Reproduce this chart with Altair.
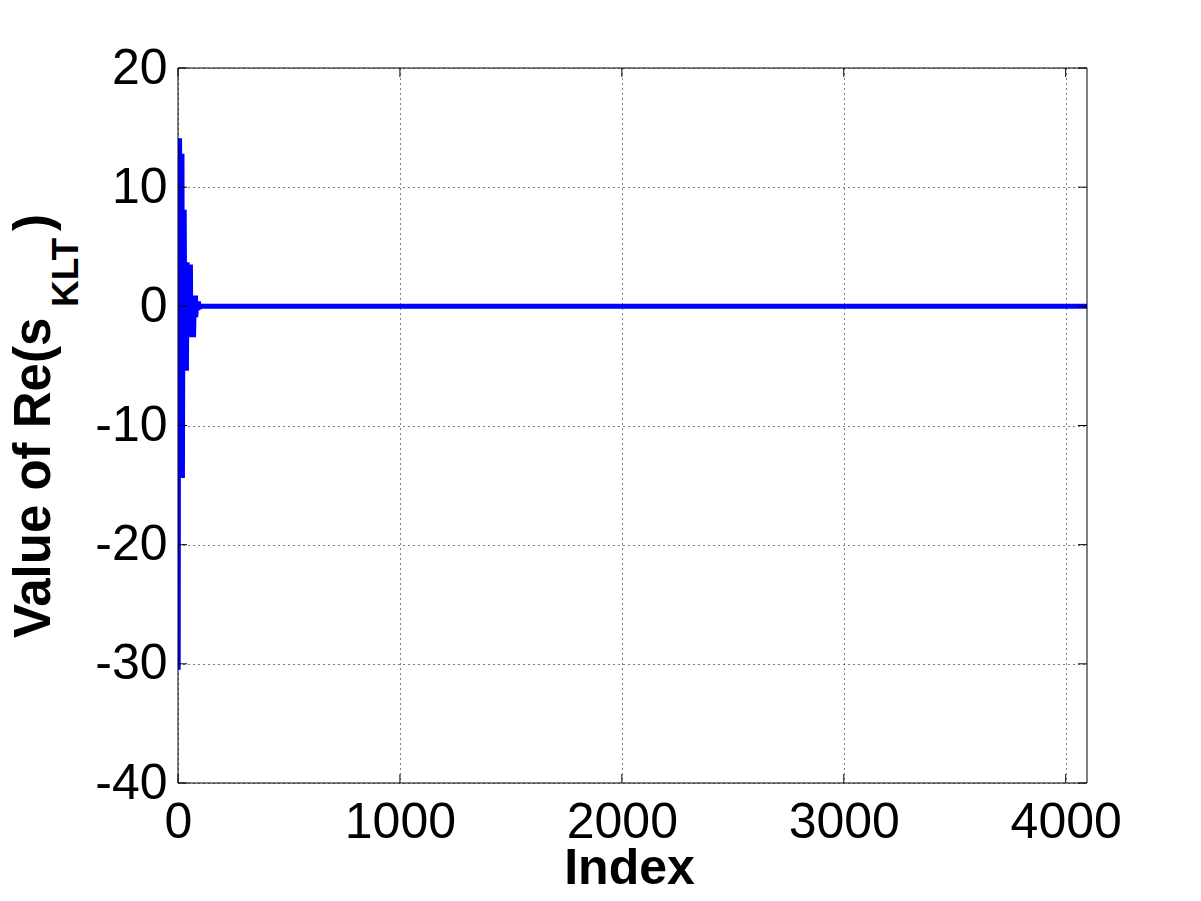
import altair as alt
import pandas as pd

# ---- data ----
index_vals = [1, 3, 5, 7, 10, 13, 16, 18, 20, 23, 26, 28, 31, 34, 38, 41, 43, 47,
              50, 53, 54, 56, 58, 61, 64, 67, 70, 74, 77, 79, 80, 85, 88, 92, 96,
              100, 4096]
signal_vals = [-30.5, 14.1, -14.4, 14.1, -14.4, 12.8, -14.4, 12.8, -14.4, 8.1,
               -5.4, 8.1, -5.4, 3.7, -5.4, 3.7, -2.6, 3.5, -2.6, 3.5, -2.6, 3.5,
               -2.6, 0.9, -2.6, 0.9, -2.6, 0.9, -0.9, 0.9, -0.9, 0.4, -0.3, 0.4,
               -0.2, 0.0, 0.0]
x_ticks = [0, 1000, 2000, 3000, 4000]
y_ticks = [-40, -30, -20, -10, 0, 10, 20]
x_domain = [0, 4096]
y_domain = [-40, 20]
x_title = "Index"
y_title_parts = ["Value of Re(s", "KLT", ")"]

W, H = 909, 715
FONT = "Liberation Sans"
TL = 9  # inner tick length

df = pd.DataFrame({"index": index_vals, "value": signal_vals})
xt = pd.DataFrame({"index": x_ticks})
yt = pd.DataFrame({"value": y_ticks})
one = pd.DataFrame({"a": [0]})

xscale = alt.Scale(domain=x_domain, nice=False, zero=False)
yscale = alt.Scale(domain=y_domain, nice=False, zero=False)

common_axis = dict(
    title=None, grid=True, ticks=False, domain=False,
    labelFontSize=50, labelFont=FONT, labelColor="black",
    labelFlush=False, labelOverlap=False,
    gridDash=[1, 4], gridColor="black", gridOpacity=1, gridWidth=1,
    labelExpr="datum.value + ''",
)
x_axis = alt.Axis(values=x_ticks, labelPadding=14, **common_axis)
y_axis = alt.Axis(values=y_ticks, labelPadding=11, **common_axis)
X = alt.X("index:Q", scale=xscale, axis=x_axis)
Y = alt.Y("value:Q", scale=yscale, axis=y_axis)

line = alt.Chart(df).mark_line(
    color="#0000ff", strokeWidth=5, clip=True, strokeJoin="bevel", strokeCap="butt"
).encode(x=X, y=Y)

rule_kw = dict(color="black", strokeWidth=1)
bottom_ticks = alt.Chart(xt).mark_rule(**rule_kw).encode(
    x=X, y=alt.value(H), y2=alt.value(H - TL))
top_ticks = alt.Chart(xt).mark_rule(**rule_kw).encode(
    x=X, y=alt.value(0), y2=alt.value(TL))
left_ticks = alt.Chart(yt).mark_rule(**rule_kw).encode(
    y=Y, x=alt.value(0), x2=alt.value(TL))
right_ticks = alt.Chart(yt).mark_rule(**rule_kw).encode(
    y=Y, x=alt.value(W), x2=alt.value(W - TL))

border_left = alt.Chart(one).mark_rule(**rule_kw).encode(
    x=alt.value(0), y=alt.value(0), y2=alt.value(H))
border_right = alt.Chart(one).mark_rule(**rule_kw).encode(
    x=alt.value(W), y=alt.value(0), y2=alt.value(H))
border_top = alt.Chart(one).mark_rule(**rule_kw).encode(
    y=alt.value(0), x=alt.value(0), x2=alt.value(W))
border_bottom = alt.Chart(one).mark_rule(**rule_kw).encode(
    y=alt.value(H), x=alt.value(0), x2=alt.value(W))

xlab = alt.Chart(pd.DataFrame({"t": [x_title]})).mark_text(
    font=FONT, fontSize=50, fontWeight="bold", align="center", baseline="alphabetic", color="black"
).encode(text="t:N", x=alt.value(W / 2 - 3), y=alt.value(816))

yl1 = alt.Chart(pd.DataFrame({"t": [y_title_parts[0]]})).mark_text(
    font=FONT, fontSize=51, fontWeight="bold", align="left", baseline="alphabetic",
    angle=270, color="black"
).encode(text="t:N", x=alt.value(-128), y=alt.value(570))
yl2 = alt.Chart(pd.DataFrame({"t": [y_title_parts[1]]})).mark_text(
    font=FONT, fontSize=37, fontWeight="bold", align="left", baseline="alphabetic",
    angle=270, color="black"
).encode(text="t:N", x=alt.value(-100), y=alt.value(239))
yl3 = alt.Chart(pd.DataFrame({"t": [y_title_parts[2]]})).mark_text(
    font=FONT, fontSize=51, fontWeight="bold", align="left", baseline="alphabetic",
    angle=270, color="black"
).encode(text="t:N", x=alt.value(-128), y=alt.value(163))

chart = alt.layer(
    line, bottom_ticks, top_ticks, left_ticks, right_ticks,
    border_left, border_right, border_top, border_bottom,
    xlab, yl1, yl2, yl3,
).properties(
    width=W, height=H,
    autosize=alt.AutoSizeParams(type="none"),
    padding={"left": 170, "top": 60, "right": 100, "bottom": 115},
    background="white",
).configure_view(stroke=None)

chart.save("out.html", embed_options={"renderer": "svg", "actions": False})
